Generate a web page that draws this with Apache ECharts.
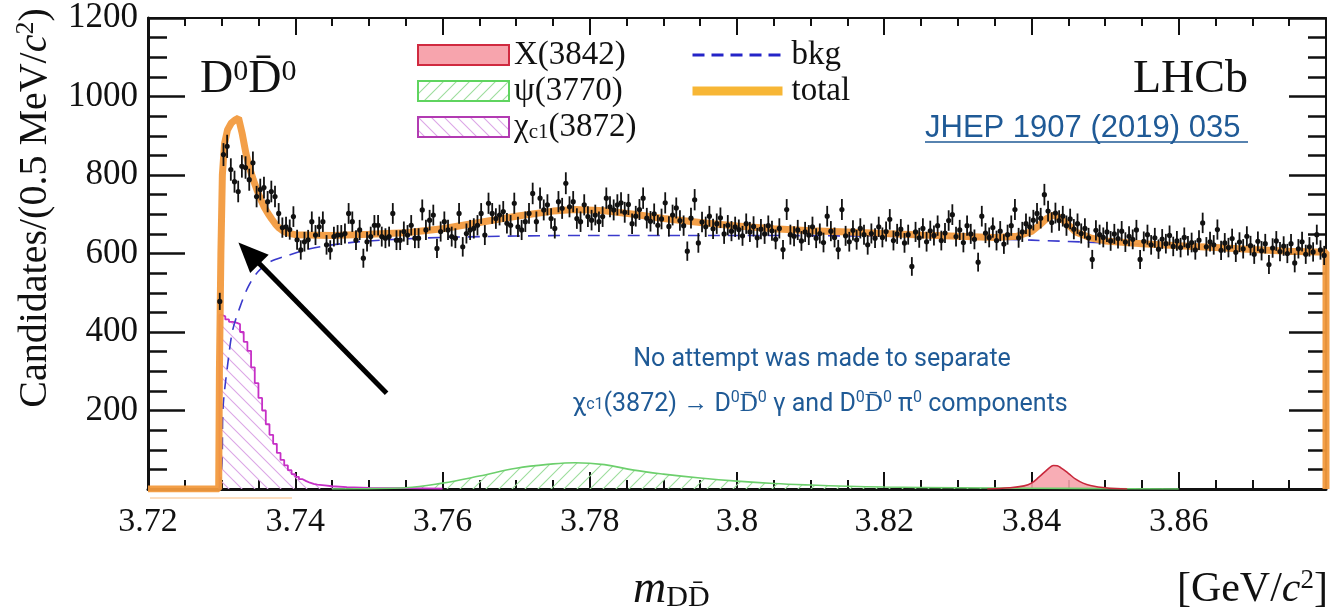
<!DOCTYPE html>
<html>
<head>
<meta charset="utf-8">
<script src="https://cdn.jsdelivr.net/npm/echarts@6/dist/echarts.min.js"></script>
<style>
  html, body { margin: 0; padding: 0; background: #fff; }
  #chart { width: 1339px; height: 611px; }
</style>
</head>
<body>
<div id="chart"></div>
<script>
// ---- binning of the D0 D0bar invariant-mass spectrum (GeV/c^2) ----
const binStart = 3.7295;
const binWidth = 0.0005;

// candidates per 0.5 MeV/c^2 bin
const counts = [
  478, 852, 873, 814, 783, 758, 822, 819, 788, 831,
  745, 763, 768, 732, 758, 745, 702, 666, 668, 661,
  694, 635, 609, 630, 635, 681, 647, 668, 681, 622,
  609, 643, 647, 647, 651, 702, 681, 634, 660, 588,
  630, 643, 672, 672, 643, 639, 643, 702, 634, 634,
  656, 647, 672, 639, 639, 711, 660, 685, 698, 613,
  656, 681, 660, 643, 639, 702, 617, 651, 660, 664,
  672, 702, 647, 728, 702, 689, 698, 707, 677, 672,
  728, 668, 660, 681, 702, 753, 681, 741, 711, 724,
  689, 664, 732, 715, 779, 719, 732, 689, 681, 724,
  694, 685, 698, 681, 694, 741, 719, 711, 724, 729,
  705, 725, 676, 695, 712, 741, 690, 682, 701, 672,
  688, 729, 669, 698, 716, 684, 671, 606, 690, 737,
  627, 680, 668, 695, 663, 676, 691, 650, 672, 657,
  668, 661, 645, 676, 655, 669, 640, 662, 650, 671,
  658, 636, 664, 610, 712, 648, 644, 660, 632, 655,
  647, 668, 639, 651, 628, 695, 657, 641, 610, 712,
  645, 630, 659, 635, 664, 648, 622, 651, 639, 668,
  641, 656, 687, 633, 650, 662, 627, 648, 567, 655,
  640, 664, 630, 658, 646, 671, 633, 652, 684, 699,
  643, 660, 628, 671, 650, 636, 578, 695, 652, 641,
  666, 633, 657, 624, 648, 671, 712, 640, 655, 676,
  668, 685, 702, 690, 750, 708, 679, 703, 684, 695,
  671, 688, 662, 676, 651, 664, 640, 585, 659, 648,
  641, 655, 632, 650, 638, 657, 629, 644, 636, 660,
  585, 631, 648, 622, 640, 611, 637, 625, 646, 618,
  632, 615, 641, 620, 628, 609, 634, 678, 617, 630,
  622, 661, 608, 627, 615, 638, 603, 629, 612, 644,
  620, 598, 631, 607, 625, 572, 614, 632, 605, 619,
  600, 625, 576, 612, 630, 598, 617, 604, 648, 609,
  595
];

// total fit
const totalX = [3.72, 3.7296, 3.7297, 3.7299, 3.7301, 3.7304, 3.7308, 3.7313, 3.7318, 3.7323,
  3.7328, 3.7333, 3.7338, 3.7343, 3.7348, 3.7353, 3.7358, 3.7363, 3.7368, 3.7373,
  3.7378, 3.7383, 3.7388, 3.7395, 3.740, 3.745, 3.750, 3.755, 3.760, 3.765,
  3.770, 3.775, 3.778, 3.782, 3.786, 3.790, 3.795, 3.800, 3.805, 3.810,
  3.815, 3.820, 3.825, 3.830, 3.835, 3.838, 3.840, 3.841, 3.842, 3.843,
  3.844, 3.845, 3.846, 3.848, 3.850, 3.855, 3.860, 3.865, 3.870, 3.875,
  3.880, 3.880];
const totalY = [0, 0, 300, 600, 800, 880, 915, 932, 940, 945,
  905, 855, 818, 788, 762, 738, 718, 702, 688, 675,
  665, 658, 653, 650, 648, 646, 649, 653, 663, 679,
  695, 708, 712, 709, 700, 689, 679, 670, 663, 658,
  655, 651, 647, 644, 641, 644, 656, 671, 688, 698,
  690, 673, 655, 640, 632, 625, 620, 615, 610, 606,
  603, 0];

// background component
const bkgX = [3.7297, 3.73005, 3.7302, 3.7309, 3.7315, 3.7325, 3.7336, 3.7349, 3.7366, 3.7393,
  3.742, 3.745, 3.75, 3.76, 3.78, 3.80, 3.82, 3.83, 3.84, 3.85, 3.86, 3.87, 3.88];
const bkgY = [0, 66, 209, 329, 405, 464, 515, 553, 579, 597,
  612, 622, 632, 641, 646, 646, 644, 640, 634, 627, 619, 611, 603];

// chi_c1(3872) component (histogram, bin left edges)
const chiX = [3.7297, 3.7297, 3.7300, 3.7305, 3.7310, 3.7315, 3.7320, 3.7325, 3.7330, 3.7335,
  3.7340, 3.7345, 3.7350, 3.7355, 3.7360, 3.7365, 3.7370, 3.7375, 3.7380, 3.7385,
  3.7390, 3.7395, 3.7400, 3.7405, 3.7410, 3.7415, 3.7420, 3.7425, 3.7430, 3.7440,
  3.7450, 3.7470, 3.7500, 3.7550, 3.7600];
const chiY = [0, 444, 440, 432, 426, 424, 420, 400, 375, 352,
  310, 270, 232, 200, 165, 138, 115, 92, 74, 60,
  48, 38, 31, 25, 20, 16, 13, 11, 9, 7,
  5, 3, 2, 1, 0];

// psi(3770) component
const psiX = [3.745, 3.750, 3.755, 3.760, 3.765, 3.770, 3.775, 3.778, 3.782, 3.786,
  3.790, 3.795, 3.800, 3.805, 3.810, 3.815, 3.820, 3.830, 3.840, 3.850, 3.860];
const psiY = [0, 1, 3, 15, 33, 53, 64, 67, 62, 48,
  38, 28, 20, 14, 10, 7, 5, 3, 2, 1, 0];

// X(3842) component
const xpkX = [3.834, 3.837, 3.839, 3.840, 3.841, 3.842, 3.8425, 3.843, 3.8435, 3.844,
  3.845, 3.846, 3.847, 3.848, 3.850, 3.853];
const xpkY = [0, 3, 8, 15, 30, 47, 55, 60, 59, 54,
  40, 25, 15, 9, 3, 0];

// axis ranges and tick steps
const xRange = [3.72, 3.88];
const xStep = 0.02;
const yRange = [0, 1200];
const yStep = 200;

// annotation arrow, in data coordinates: tail then head
const arrowTail = [3.75241, 244];
const arrowHead = [3.73371, 601];

const SERIF = 'Liberation Serif';
const SANS = 'Roboto';
const BLUE_TXT = '#1f5a96';

function zip(a, b) { return a.map((v, i) => [v, b[i]]); }

function hatch(stroke, rising) {
  const s = 13;
  const c = document.createElement('canvas');
  c.width = s; c.height = s;
  const g = c.getContext('2d');
  g.strokeStyle = stroke;
  g.lineWidth = 1.1;
  g.beginPath();
  if (rising) {
    g.moveTo(0, s); g.lineTo(s, 0);
    g.moveTo(-s / 2, s / 2); g.lineTo(s / 2, -s / 2);
    g.moveTo(s / 2, s * 1.5); g.lineTo(s * 1.5, s / 2);
  } else {
    g.moveTo(0, 0); g.lineTo(s, s);
    g.moveTo(-s / 2, s / 2); g.lineTo(s / 2, s * 1.5);
    g.moveTo(s / 2, -s / 2); g.lineTo(s * 1.5, s / 2);
  }
  g.stroke();
  return c;
}

const greenHatch = { image: hatch('#9ddd9d', true), repeat: 'repeat' };
const pinkHatch = { image: hatch('#dca6e6', false), repeat: 'repeat' };

const chart = echarts.init(document.getElementById('chart'), null, { renderer: 'canvas' });

const axisLineStyle = { color: '#111', width: 3 };

const option = {
  animation: false,
  backgroundColor: '#fff',
  grid: { left: 148, right: 13, top: 18, bottom: 122, containLabel: false },
  xAxis: [
    {
      type: 'value', min: xRange[0], max: xRange[1], interval: xStep,
      axisLine: { show: true, onZero: false, lineStyle: axisLineStyle },
      axisTick: { show: true, inside: true, length: 17, lineStyle: { color: '#111', width: 2 } },
      minorTick: { show: true, splitNumber: 4, length: 9, lineStyle: { color: '#111', width: 2 } },
      splitLine: { show: false },
      axisLabel: {
        margin: 16, color: '#111', fontFamily: SERIF, fontSize: 34,
        formatter: v => (Math.abs(v - xRange[1]) < 1e-6 ? '' : String(+v.toFixed(2)))
      }
    },
    {
      type: 'value', position: 'top', min: xRange[0], max: xRange[1], interval: xStep,
      axisLine: { show: true, onZero: false, lineStyle: { color: '#111', width: 2 } },
      axisTick: { show: true, inside: true, length: 17, lineStyle: { color: '#111', width: 2 } },
      minorTick: { show: true, splitNumber: 4, length: 8, lineStyle: { color: '#111', width: 2 } },
      splitLine: { show: false },
      axisLabel: { show: false }
    }
  ],
  yAxis: [
    {
      type: 'value', min: yRange[0], max: yRange[1], interval: yStep,
      axisLine: { show: true, onZero: false, lineStyle: axisLineStyle },
      axisTick: { show: true, inside: true, length: 37, lineStyle: { color: '#111', width: 2.5 } },
      minorTick: { show: true, splitNumber: 4, length: 19, lineStyle: { color: '#111', width: 2.5 } },
      splitLine: { show: false },
      axisLabel: {
        margin: 10, color: '#111', fontFamily: SERIF, fontSize: 35,
        formatter: v => (v === 0 ? '' : String(v))
      }
    },
    {
      type: 'value', position: 'right', min: yRange[0], max: yRange[1], interval: yStep,
      axisLine: { show: true, onZero: false, lineStyle: { color: '#111', width: 2 } },
      axisTick: { show: true, inside: true, length: 37, lineStyle: { color: '#111', width: 2.5 } },
      minorTick: { show: true, splitNumber: 4, length: 18, lineStyle: { color: '#111', width: 2.5 } },
      splitLine: { show: false },
      axisLabel: { show: false }
    }
  ],
  legend: [
    {
      left: 417, top: 37, orient: 'vertical', selectedMode: false, padding: 0,
      itemWidth: 91, itemHeight: 20, itemGap: 0,
      textStyle: {
        fontFamily: SERIF, fontSize: 33, color: '#111', lineHeight: 36,
        rich: {
          g: { fontFamily: SERIF, fontSize: 33, color: '#111', lineHeight: 36 },
          s: { fontFamily: SERIF, fontSize: 21, color: '#111', lineHeight: 36, padding: [10, 0, 0, 0] }
        }
      },
      formatter: name => (name === 'χc1(3872)' ? '{g|χ}{s|c1}{g|(3872)}' : name),
      data: [
        { name: 'X(3842)', icon: 'rect', itemStyle: { color: '#f7a4ad', borderColor: '#d02a40', borderWidth: 2 } },
        { name: 'ψ(3770)', icon: 'rect', itemStyle: { color: greenHatch, borderColor: '#5fd45f', borderWidth: 2 } },
        { name: 'χc1(3872)', icon: 'rect', itemStyle: { color: pinkHatch, borderColor: '#b23bb2', borderWidth: 2 } }
      ]
    },
    {
      left: 688, top: 37, orient: 'vertical', selectedMode: false, padding: 0,
      itemWidth: 90, itemHeight: 12, itemGap: 0,
      textStyle: { fontFamily: SERIF, fontSize: 33, color: '#111', lineHeight: 36, padding: [0, 0, 0, 4] },
      data: [
        { name: 'bkg', itemStyle: { opacity: 0 }, lineStyle: { color: '#2424c8', width: 3, type: [12, 7] } },
        { name: 'total', itemStyle: { opacity: 0 }, lineStyle: { color: '#f7b22a', width: 9 } }
      ]
    }
  ],
  series: [
    {
      name: 'χc1(3872)', type: 'line', step: 'end', symbol: 'none', z: 2,
      data: zip(chiX, chiY),
      lineStyle: { color: '#c630c6', width: 1.8 },
      itemStyle: { color: '#c630c6' },
      areaStyle: { color: pinkHatch, opacity: 1 }
    },
    {
      name: 'ψ(3770)', type: 'line', smooth: 0.4, symbol: 'none', z: 2,
      data: zip(psiX, psiY),
      lineStyle: { color: '#6ccf6c', width: 1.6 },
      itemStyle: { color: '#6ccf6c' },
      areaStyle: { color: greenHatch, opacity: 1 }
    },
    {
      name: 'X(3842)', type: 'line', smooth: 0.4, symbol: 'none', z: 2,
      data: zip(xpkX, xpkY),
      lineStyle: { color: '#c8283c', width: 1.6 },
      itemStyle: { color: '#c8283c' },
      areaStyle: { color: '#f7a4ad', opacity: 0.9 }
    },
    {
      name: 'bkg', type: 'line', smooth: 0.3, symbol: 'none', z: 3,
      data: zip(bkgX, bkgY),
      lineStyle: { color: '#3a3acc', width: 1.6, type: [12, 8] },
      itemStyle: { color: '#3a3acc' },
      markLine: {
        silent: true, symbol: ['none', 'triangle'], symbolSize: [26, 30],
        label: { show: false },
        lineStyle: { color: '#000', width: 5, type: 'solid' },
        emphasis: { disabled: true },
        data: [[{ coord: arrowTail }, { coord: arrowHead }]]
      }
    },
    {
      name: 'total', type: 'line', symbol: 'none', z: 4,
      data: zip(totalX, totalY),
      lineStyle: { color: '#f29a3e', width: 7, opacity: 0.95 },
      itemStyle: { color: '#f29a3e' }
    },
    {
      name: 'data', type: 'custom', z: 6,
      data: counts.map((c, i) => [binStart + (i + 0.5) * binWidth, c]),
      encode: { x: 0, y: 1 },
      renderItem: (params, api) => {
        const x = api.value(0), y = api.value(1), e = Math.sqrt(y);
        const p = api.coord([x, y]);
        const hi = api.coord([x, y + e]);
        const lo = api.coord([x, y - e]);
        return {
          type: 'group',
          children: [
            { type: 'line', shape: { x1: p[0], y1: hi[1], x2: p[0], y2: lo[1] }, style: { stroke: '#111', lineWidth: 1.8 } },
            { type: 'circle', shape: { cx: p[0], cy: p[1], r: 2.6 }, style: { fill: '#111' } }
          ]
        };
      }
    }
  ],
  graphic: [
    // y-axis title
    {
      type: 'text', x: 35, y: 208, rotation: Math.PI / 2,
      style: {
        text: '{a|Candidates/(0.5 MeV/}{i|c}{s|2}{a|)}',
        align: 'center', verticalAlign: 'middle',
        rich: {
          a: { fontFamily: SERIF, fontSize: 40, fill: '#111', lineHeight: 44 },
          i: { fontFamily: SERIF, fontStyle: 'italic', fontSize: 40, fill: '#111', lineHeight: 44 },
          s: { fontFamily: SERIF, fontSize: 26, fill: '#111', lineHeight: 26, verticalAlign: 'top' }
        }
      }
    },
    // x-axis title
    {
      type: 'text', x: 633, y: 590,
      style: {
        text: '{m|m}{s|DD\u0304}',
        align: 'left', verticalAlign: 'middle',
        rich: {
          m: { fontFamily: SERIF, fontStyle: 'italic', fontSize: 46, fill: '#111', lineHeight: 46 },
          s: { fontFamily: SERIF, fontSize: 30, fill: '#111', lineHeight: 30, verticalAlign: 'bottom' }
        }
      }
    },
    {
      type: 'text', x: 1328, y: 590,
      style: {
        text: '{a|[GeV/}{i|c}{s|2}{a|]}',
        align: 'right', verticalAlign: 'middle',
        rich: {
          a: { fontFamily: SERIF, fontSize: 42, fill: '#111', lineHeight: 46 },
          i: { fontFamily: SERIF, fontStyle: 'italic', fontSize: 42, fill: '#111', lineHeight: 46 },
          s: { fontFamily: SERIF, fontSize: 27, fill: '#111', lineHeight: 27, verticalAlign: 'top' }
        }
      }
    },
    // channel label
    {
      type: 'text', x: 200, y: 80,
      style: {
        text: '{d|D}{s|0}{d|D\u0304}{s|0}',
        align: 'left', verticalAlign: 'middle',
        rich: {
          d: { fontFamily: SERIF, fontSize: 46, fill: '#111', lineHeight: 46 },
          s: { fontFamily: SERIF, fontSize: 30, fill: '#111', lineHeight: 30, verticalAlign: 'top' }
        }
      }
    },
    // experiment label
    {
      type: 'text', x: 1248, y: 80,
      style: { text: 'LHCb', align: 'right', verticalAlign: 'middle', fontFamily: SERIF, fontSize: 46, fill: '#111' }
    },
    // reference
    {
      type: 'group', x: 925, y: 128,
      children: [
        { type: 'text', x: 0, y: 0, style: { text: 'JHEP 1907 (2019) 035', align: 'left', verticalAlign: 'middle', fontFamily: 'Liberation Sans', fontSize: 31, fill: BLUE_TXT } },
        { type: 'line', shape: { x1: 0, y1: 14, x2: 323, y2: 14 }, style: { stroke: BLUE_TXT, lineWidth: 1.6 } }
      ]
    },
    // note about the chi_c1 component
    {
      type: 'text', x: 822, y: 360,
      style: { text: 'No attempt was made to separate', align: 'center', verticalAlign: 'middle', fontFamily: SANS, fontSize: 25, fill: BLUE_TXT }
    },
    {
      type: 'text', x: 820, y: 405,
      style: {
        text: '{t|χ}{s|c1}{t|(3872) → D}{u|0}{t|D\u0304}{u|0}{t| γ and D}{u|0}{t|D\u0304}{u|0}{t| π}{u|0}{t| components}',
        align: 'center', verticalAlign: 'middle',
        rich: {
          t: { fontFamily: SANS, fontSize: 25, fill: BLUE_TXT, lineHeight: 30 },
          s: { fontFamily: SANS, fontSize: 16, fill: BLUE_TXT, lineHeight: 30 },
          u: { fontFamily: SANS, fontSize: 16, fill: BLUE_TXT, lineHeight: 18, verticalAlign: 'top' }
        }
      }
    },
    // faint orange stroke under the axis
    {
      type: 'line', shape: { x1: 150, y1: 498, x2: 292, y2: 498 }, z: 1,
      style: { stroke: '#fbd3ab', lineWidth: 1.5 }
    }
  ]
};

chart.setOption(option);
</script>
</body>
</html>
